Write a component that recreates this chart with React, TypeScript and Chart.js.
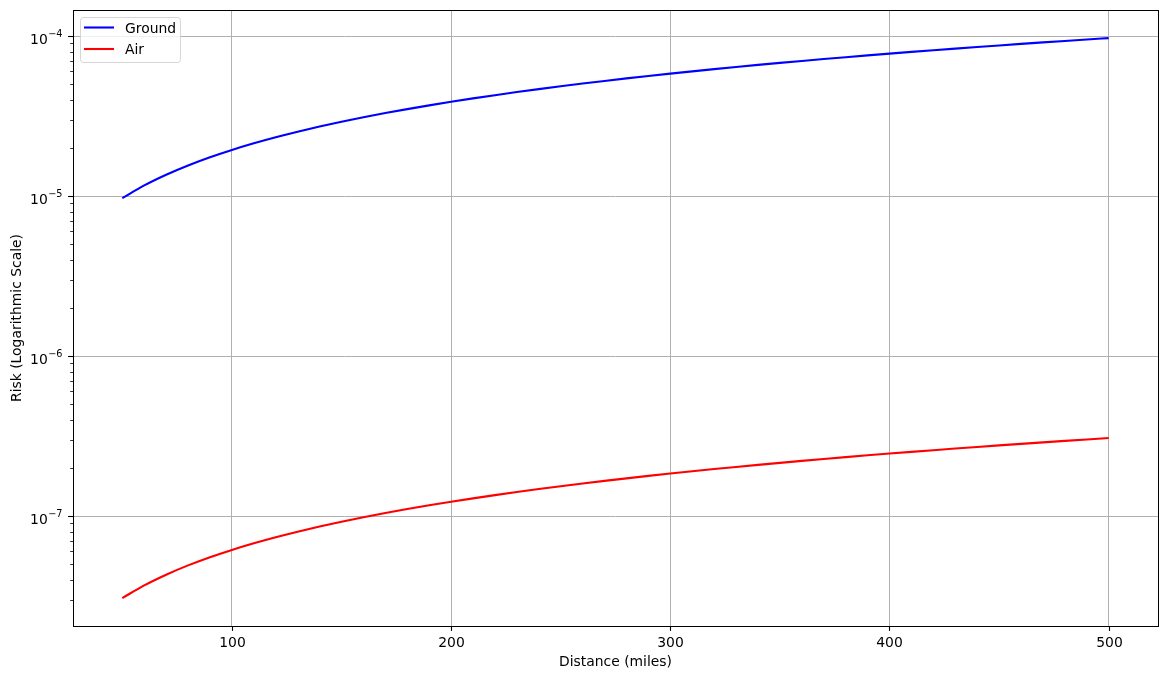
import React, { useEffect, useRef } from 'react';
import { Chart, registerables } from 'chart.js';

Chart.register(...registerables);

// ---- data ----
const distances = [
  50, 60, 70, 80, 90, 100, 110, 120, 130, 140, 150, 160, 170, 180, 190, 200,
  210, 220, 230, 240, 250, 260, 270, 280, 290, 300, 310, 320, 330, 340, 350,
  360, 370, 380, 390, 400, 410, 420, 430, 440, 450, 460, 470, 480, 490, 500,
];
const groundRisk = [
  9.7e-6, 1.164e-5, 1.358e-5, 1.552e-5, 1.746e-5, 1.94e-5, 2.134e-5, 2.328e-5, 2.522e-5, 2.716e-5,
  2.91e-5, 3.104e-5, 3.298e-5, 3.492e-5, 3.686e-5, 3.88e-5, 4.074e-5, 4.268e-5, 4.462e-5, 4.656e-5,
  4.85e-5, 5.044e-5, 5.238e-5, 5.432e-5, 5.626e-5, 5.82e-5, 6.014e-5, 6.208e-5, 6.402e-5, 6.596e-5,
  6.79e-5, 6.984e-5, 7.178e-5, 7.372e-5, 7.566e-5, 7.76e-5, 7.954e-5, 8.148e-5, 8.342e-5, 8.536e-5,
  8.73e-5, 8.924e-5, 9.118e-5, 9.312e-5, 9.506e-5, 9.7e-5,
];
const airRisk = [
  3.07e-8, 3.684e-8, 4.298e-8, 4.912e-8, 5.526e-8, 6.14e-8, 6.754e-8, 7.368e-8, 7.982e-8, 8.596e-8,
  9.21e-8, 9.824e-8, 1.0438e-7, 1.1052e-7, 1.1666e-7, 1.228e-7, 1.2894e-7, 1.3508e-7, 1.4122e-7, 1.4736e-7,
  1.535e-7, 1.5964e-7, 1.6578e-7, 1.7192e-7, 1.7806e-7, 1.842e-7, 1.9034e-7, 1.9648e-7, 2.0262e-7, 2.0876e-7,
  2.149e-7, 2.2104e-7, 2.2718e-7, 2.3332e-7, 2.3946e-7, 2.456e-7, 2.5174e-7, 2.5788e-7, 2.6402e-7, 2.7016e-7,
  2.763e-7, 2.8244e-7, 2.8858e-7, 2.9472e-7, 3.0086e-7, 3.07e-7,
];
const seriesLabels = ['Ground', 'Air'];
const seriesColors = ['#0000ff', '#ff0000'];
const xTickValues = [100, 200, 300, 400, 500];
const yDecadeExponents = [-8, -7, -6, -5, -4];
const xTitle = 'Distance (miles)';
const yTitle = 'Risk (Logarithmic Scale)';

const FONT = '"DejaVu Sans", sans-serif';
const GRID = '#b0b0b0';

const isMajor = (v: number) => {
  const l = Math.log10(v);
  return Math.abs(l - Math.round(l)) < 1e-6;
};

const mplPlugin = {
  id: 'mplLook',
  afterDraw(chart: any) {
    const ctx = chart.ctx as CanvasRenderingContext2D;
    const { left, right, top, bottom } = chart.chartArea;
    const xs = chart.scales.x;
    const ys = chart.scales.y;
    ctx.save();

    // frame
    ctx.strokeStyle = '#000';
    ctx.lineWidth = 1;
    ctx.strokeRect(left + 0.5, top + 0.5, right - left, bottom - top);

    // x ticks + labels
    ctx.fillStyle = '#000';
    ctx.font = `13.9px ${FONT}`;
    ctx.textAlign = 'center';
    ctx.textBaseline = 'alphabetic';
    xs.ticks.forEach((t: any) => {
      const px = Math.round(xs.getPixelForValue(t.value)) + 0.5;
      ctx.beginPath();
      ctx.lineWidth = 1.1;
      ctx.moveTo(px, bottom);
      ctx.lineTo(px, bottom + 4.9);
      ctx.stroke();
      ctx.fillText(String(t.value), px, bottom + 21);
    });

    // y ticks + labels
    ys.ticks.forEach((t: any) => {
      const v = t.value;
      const py = Math.round(ys.getPixelForValue(v)) + 0.5;
      const major = isMajor(v);
      ctx.beginPath();
      ctx.lineWidth = major ? 1.1 : 0.8;
      ctx.moveTo(left, py);
      ctx.lineTo(left - (major ? 4.9 : 2.8), py);
      ctx.stroke();
      if (major) {
        const e = Math.round(Math.log10(v));
        const sup = (e < 0 ? '\u2212' : '') + String(Math.abs(e));
        const rightX = left - 10.5;
        ctx.font = `9.7px ${FONT}`;
        const wSup = ctx.measureText(sup).width;
        ctx.textAlign = 'left';
        ctx.fillText(sup, rightX - wSup, py + 0.5);
        ctx.font = `13.9px ${FONT}`;
        ctx.textAlign = 'right';
        ctx.fillText('10', rightX - wSup - 0.5, py + 7);
      }
    });

    // axis titles
    ctx.font = `13.9px ${FONT}`;
    ctx.textAlign = 'center';
    ctx.textBaseline = 'alphabetic';
    ctx.fillText(xTitle, (left + right) / 2, 666);
    ctx.save();
    ctx.translate(21, (top + bottom) / 2);
    ctx.rotate(-Math.PI / 2);
    ctx.fillText(yTitle, 0, 0);
    ctx.restore();

    // legend
    const bx = 80.5, by = 17.5, bw = 100, bh = 45;
    ctx.beginPath();
    (ctx as any).roundRect(bx, by, bw, bh, 3);
    ctx.fillStyle = 'rgba(255,255,255,0.8)';
    ctx.fill();
    ctx.strokeStyle = 'rgba(204,204,204,0.8)';
    ctx.lineWidth = 1;
    ctx.stroke();
    const rows = [27.5, 49];
    chart.data.datasets.forEach((ds: any, i: number) => {
      const ly = rows[i];
      ctx.beginPath();
      ctx.strokeStyle = ds.borderColor;
      ctx.lineWidth = 2.1;
      ctx.moveTo(84, ly);
      ctx.lineTo(114, ly);
      ctx.stroke();
      ctx.fillStyle = '#000';
      ctx.font = `13.9px ${FONT}`;
      ctx.textAlign = 'left';
      ctx.fillText(ds.label, 125, ly + 5);
    });

    ctx.restore();
  },
};

export default function App() {
  const ref = useRef<HTMLCanvasElement | null>(null);

  useEffect(() => {
    const canvas = ref.current;
    if (!canvas) return;
    const yMin = Math.pow(10, -7.6875);
    const yMax = Math.pow(10, -3.8375);
    const seriesData = [groundRisk, airRisk];
    const chart = new Chart(canvas, {
      type: 'line',
      data: {
        datasets: seriesLabels.map((label, i) => ({
          label,
          data: distances.map((d, j) => ({ x: d, y: seriesData[i][j] })),
          borderColor: seriesColors[i],
          backgroundColor: seriesColors[i],
          borderWidth: 2.1,
          pointRadius: 0,
          fill: false,
          cubicInterpolationMode: 'monotone' as const,
        })),
      },
      options: {
        animation: false,
        responsive: false,
        devicePixelRatio: 1,
        layout: { padding: { left: 0, top: 10, right: 9, bottom: 0 } },
        plugins: { legend: { display: false }, tooltip: { enabled: false } },
        scales: {
          x: {
            type: 'linear',
            min: 27.5,
            max: 522.5,
            afterBuildTicks: (scale: any) => {
              scale.ticks = xTickValues.map((v) => ({ value: v }));
            },
            afterFit: (scale: any) => {
              scale.height = 53;
            },
            ticks: { display: false, autoSkip: false },
            grid: { color: GRID, lineWidth: 1, drawTicks: false },
            border: { display: false },
          },
          y: {
            type: 'logarithmic',
            min: yMin,
            max: yMax,
            afterBuildTicks: (scale: any) => {
              const list: any[] = [];
              yDecadeExponents.forEach((e) => {
                for (let m = 1; m <= 9; m++) {
                  const v = m * Math.pow(10, e);
                  if (v >= yMin && v <= yMax) list.push({ value: v, major: m === 1 });
                }
              });
              scale.ticks = list;
            },
            afterFit: (scale: any) => {
              scale.width = 73;
            },
            ticks: { display: false, autoSkip: false },
            grid: {
              color: (c: any) => (c.tick && isMajor(c.tick.value) ? GRID : 'rgba(0,0,0,0)'),
              lineWidth: 1,
              drawTicks: false,
            },
            border: { display: false },
          },
        },
      },
      plugins: [mplPlugin],
    });
    return () => chart.destroy();
  }, []);

  return (
    <div style={{ position: 'fixed', left: 0, top: 0, width: 1167, height: 679, background: '#fff' }}>
      <canvas ref={ref} width={1167} height={679} style={{ width: 1167, height: 679, display: 'block' }} />
    </div>
  );
}
